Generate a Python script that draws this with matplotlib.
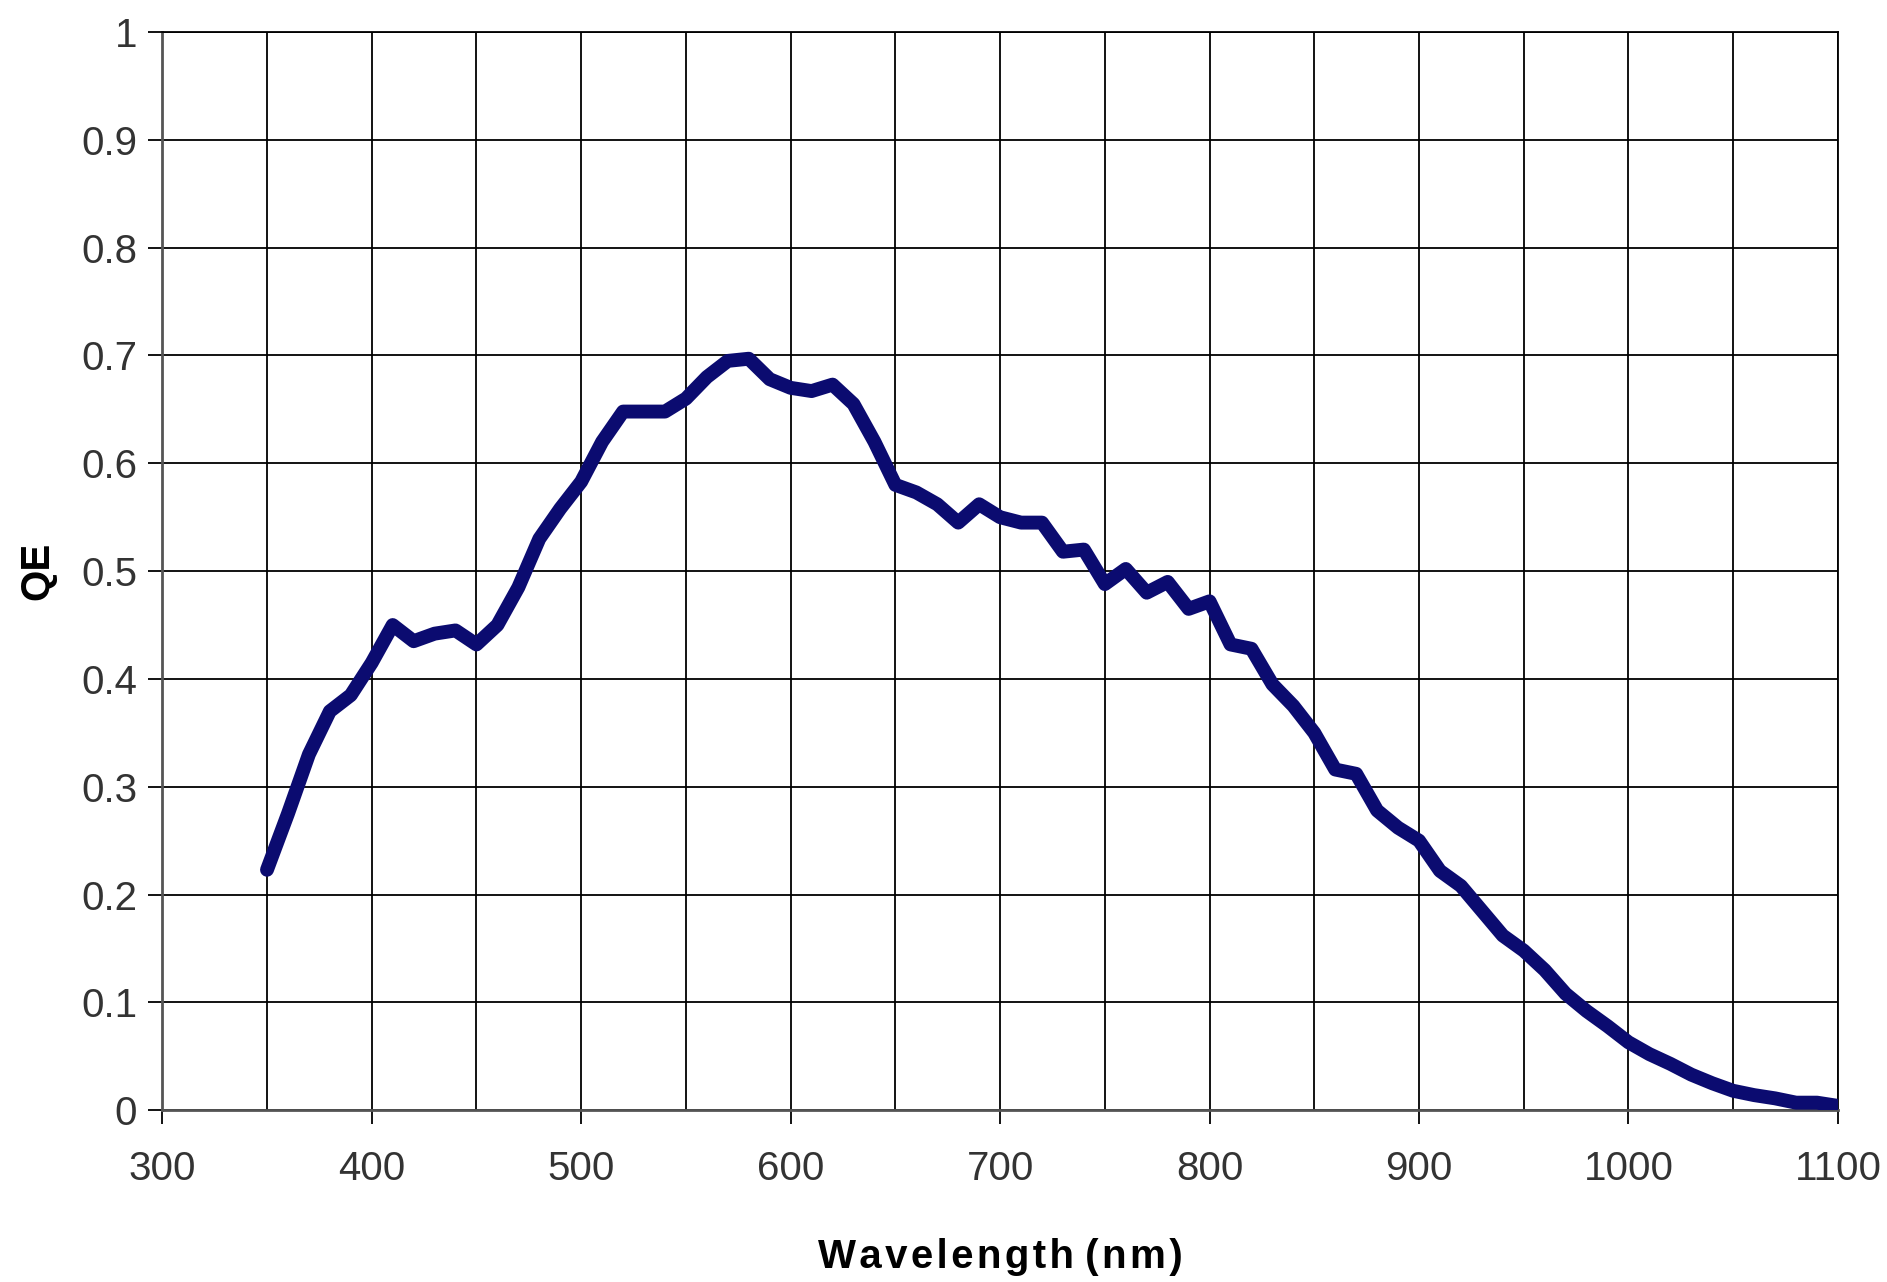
import numpy as np
import matplotlib
matplotlib.use("Agg")
import matplotlib.pyplot as plt
from matplotlib.ticker import MultipleLocator

# Quantum efficiency curve
wavelength = list(range(350, 1101, 10))
qe = [0.223, 0.275, 0.330, 0.370, 0.385, 0.415, 0.450, 0.435, 0.442, 0.445,
      0.432, 0.450, 0.485, 0.530, 0.558, 0.583, 0.620, 0.648, 0.648, 0.648,
      0.660, 0.680, 0.695, 0.697, 0.678, 0.670, 0.667, 0.673, 0.655, 0.620,
      0.580, 0.573, 0.562, 0.545, 0.562, 0.550, 0.545, 0.545, 0.518, 0.520,
      0.488, 0.502, 0.480, 0.490, 0.465, 0.472, 0.432, 0.428, 0.395, 0.375,
      0.350, 0.316, 0.312, 0.278, 0.262, 0.250, 0.222, 0.208, 0.185, 0.162,
      0.148, 0.130, 0.108, 0.092, 0.078, 0.063, 0.052, 0.043, 0.033, 0.025,
      0.018, 0.014, 0.011, 0.007, 0.007, 0.004]

x_ticks = list(range(300, 1101, 100))
y_ticks = [0, 0.1, 0.2, 0.3, 0.4, 0.5, 0.6, 0.7, 0.8, 0.9, 1]
y_labels = ["0", "0.1", "0.2", "0.3", "0.4", "0.5", "0.6", "0.7", "0.8", "0.9", "1"]

plt.rcParams["font.family"] = ["Liberation Sans", "DejaVu Sans"]

fig = plt.figure(figsize=(18.87, 12.82), dpi=100)
ax = fig.add_axes([0.086, 0.134, 0.888, 0.841])

ax.plot(wavelength, qe, color="#0b0b70", linewidth=10, solid_joinstyle="round",
        solid_capstyle="round", zorder=3)

ax.set_xlim(300, 1100)
ax.set_ylim(0, 1)
ax.set_xticks(x_ticks)
ax.xaxis.set_minor_locator(MultipleLocator(50))
ax.set_yticks(y_ticks)
ax.set_yticklabels(y_labels)

ax.grid(which="both", color="black", linewidth=1.3)
ax.set_axisbelow(True)
ax.tick_params(axis="both", which="major", direction="out", length=10,
               width=1.3, labelsize=29, colors="black", labelcolor="#333333")
ax.tick_params(axis="x", which="major", pad=19)
ax.tick_params(axis="y", which="major", pad=8)
ax.tick_params(which="minor", length=0)

for side in ["left", "bottom"]:
    ax.spines[side].set_color("#555555")
    ax.spines[side].set_linewidth(2)
for side in ["top", "right"]:
    ax.spines[side].set_color("black")
    ax.spines[side].set_linewidth(1.3)

# letter-spaced bold axis title, as in the original
hs = "\u200a"
xlabel = hs.join("Wavelength") + " " + hs.join("(nm)")
ax.set_xlabel(xlabel, fontsize=29, fontweight="bold", labelpad=36)
ax.set_ylabel("QE", fontsize=29, fontweight="bold", labelpad=18)

fig.savefig("out.png", dpi=100, facecolor="white")
